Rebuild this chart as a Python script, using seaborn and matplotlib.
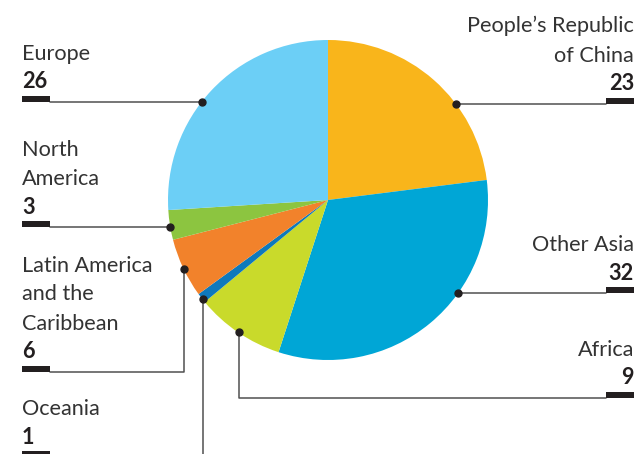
import numpy as np
import matplotlib
matplotlib.use("Agg")
import matplotlib.pyplot as plt
from matplotlib.patches import Rectangle
import seaborn as sns

# ---- data ----
regions = ["People\u2019s Republic of China", "Other Asia", "Africa", "Oceania",
           "Latin America and the Caribbean", "North America", "Europe"]
shares = [23, 32, 9, 1, 6, 3, 26]
colors = ["#F9B51B", "#00A6D6", "#C9DA2B", "#0E79BC", "#F2822B", "#8CC540", "#6CCFF6"]

label_lines = {
    "Europe": ["Europe"],
    "People\u2019s Republic of China": ["People\u2019s Republic", "of China"],
    "North America": ["North", "America"],
    "Latin America and the Caribbean": ["Latin America", "and the", "Caribbean"],
    "Oceania": ["Oceania"],
    "Other Asia": ["Other Asia"],
    "Africa": ["Africa"],
}

# ---- layout (pixel coordinates, y measured from top) ----
W, H = 636, 454
CX, CY, R = 328, 200, 160
LINE = 29
# side, first baseline, leader type, vertical anchor x
layout = {
    "Europe": ("left", 60, "h", None),
    "People\u2019s Republic of China": ("right", 32.5, "h", None),
    "North America": ("left", 156, "h", None),
    "Latin America and the Caribbean": ("left", 271.5, "v", 184),
    "Oceania": ("left", 415, "down", 203),
    "Other Asia": ("right", 251, "h", None),
    "Africa": ("right", 356, "v", 239),
}

sns.set_theme(style="white")
plt.rcParams["font.family"] = ["Lato", "DejaVu Sans"]

fig = plt.figure(figsize=(W / 100, H / 100), dpi=100)
ax = fig.add_axes([0, 0, 1, 1])

def py(y):
    return H - y

pal = sns.color_palette(colors)
ax.pie(shares, colors=pal, startangle=90, counterclock=False,
       center=(CX, py(CY)), radius=R, wedgeprops=dict(linewidth=0))
ax.set_xlim(0, W)
ax.set_ylim(0, H)
ax.set_aspect("equal")
ax.axis("off")

TXT = "#333333"
LC = "#505050"
DOT = "#231F20"
FS = 15.6
XL, XR = 22, 634
BW, BH = 28, 6

for name, val in zip(regions, shares):
    side, y0, kind, vx = layout[name]
    lines = label_lines[name]
    ha = "left" if side == "left" else "right"
    xt = XL if side == "left" else XR
    for i, ln in enumerate(lines):
        ax.text(xt, py(y0 + i * LINE), ln, ha=ha, va="baseline", fontsize=FS,
                fontweight="normal", color=TXT)
    ynum = y0 + (len(lines) - 1) * LINE + 28.5
    ax.text(xt, py(ynum), str(val), ha=ha, va="baseline", fontsize=FS,
            fontweight="bold", color="#231F20")
    bar_bot = ynum + 13.5
    bx = XL if side == "left" else XR - BW
    ax.add_patch(Rectangle((bx, py(bar_bot)), BW, BH, color=DOT, lw=0, zorder=3))
    bar_end = XL + BW if side == "left" else XR - BW
    if kind == "h":
        dy = bar_bot - CY
        dx = np.sqrt(R ** 2 - dy ** 2)
        dxp = CX - dx if side == "left" else CX + dx
        ax.plot([bar_end, dxp], [py(bar_bot), py(bar_bot)], color=LC, lw=1.1, zorder=2)
        ax.plot([dxp], [py(bar_bot)], "o", color=DOT, ms=5, zorder=4)
    else:
        dx = vx - CX
        dyp = CY + np.sqrt(R ** 2 - dx ** 2) - 1
        if kind == "v":
            ax.plot([bar_end, vx, vx], [py(bar_bot), py(bar_bot), py(dyp)],
                    color=LC, lw=1.1, zorder=2)
        else:
            ax.plot([vx, vx], [py(dyp), py(H + 10)], color=LC, lw=1.1, zorder=2)
        ax.plot([vx], [py(dyp)], "o", color=DOT, ms=5, zorder=4)

fig.savefig("out.png", dpi=100, facecolor="white")
